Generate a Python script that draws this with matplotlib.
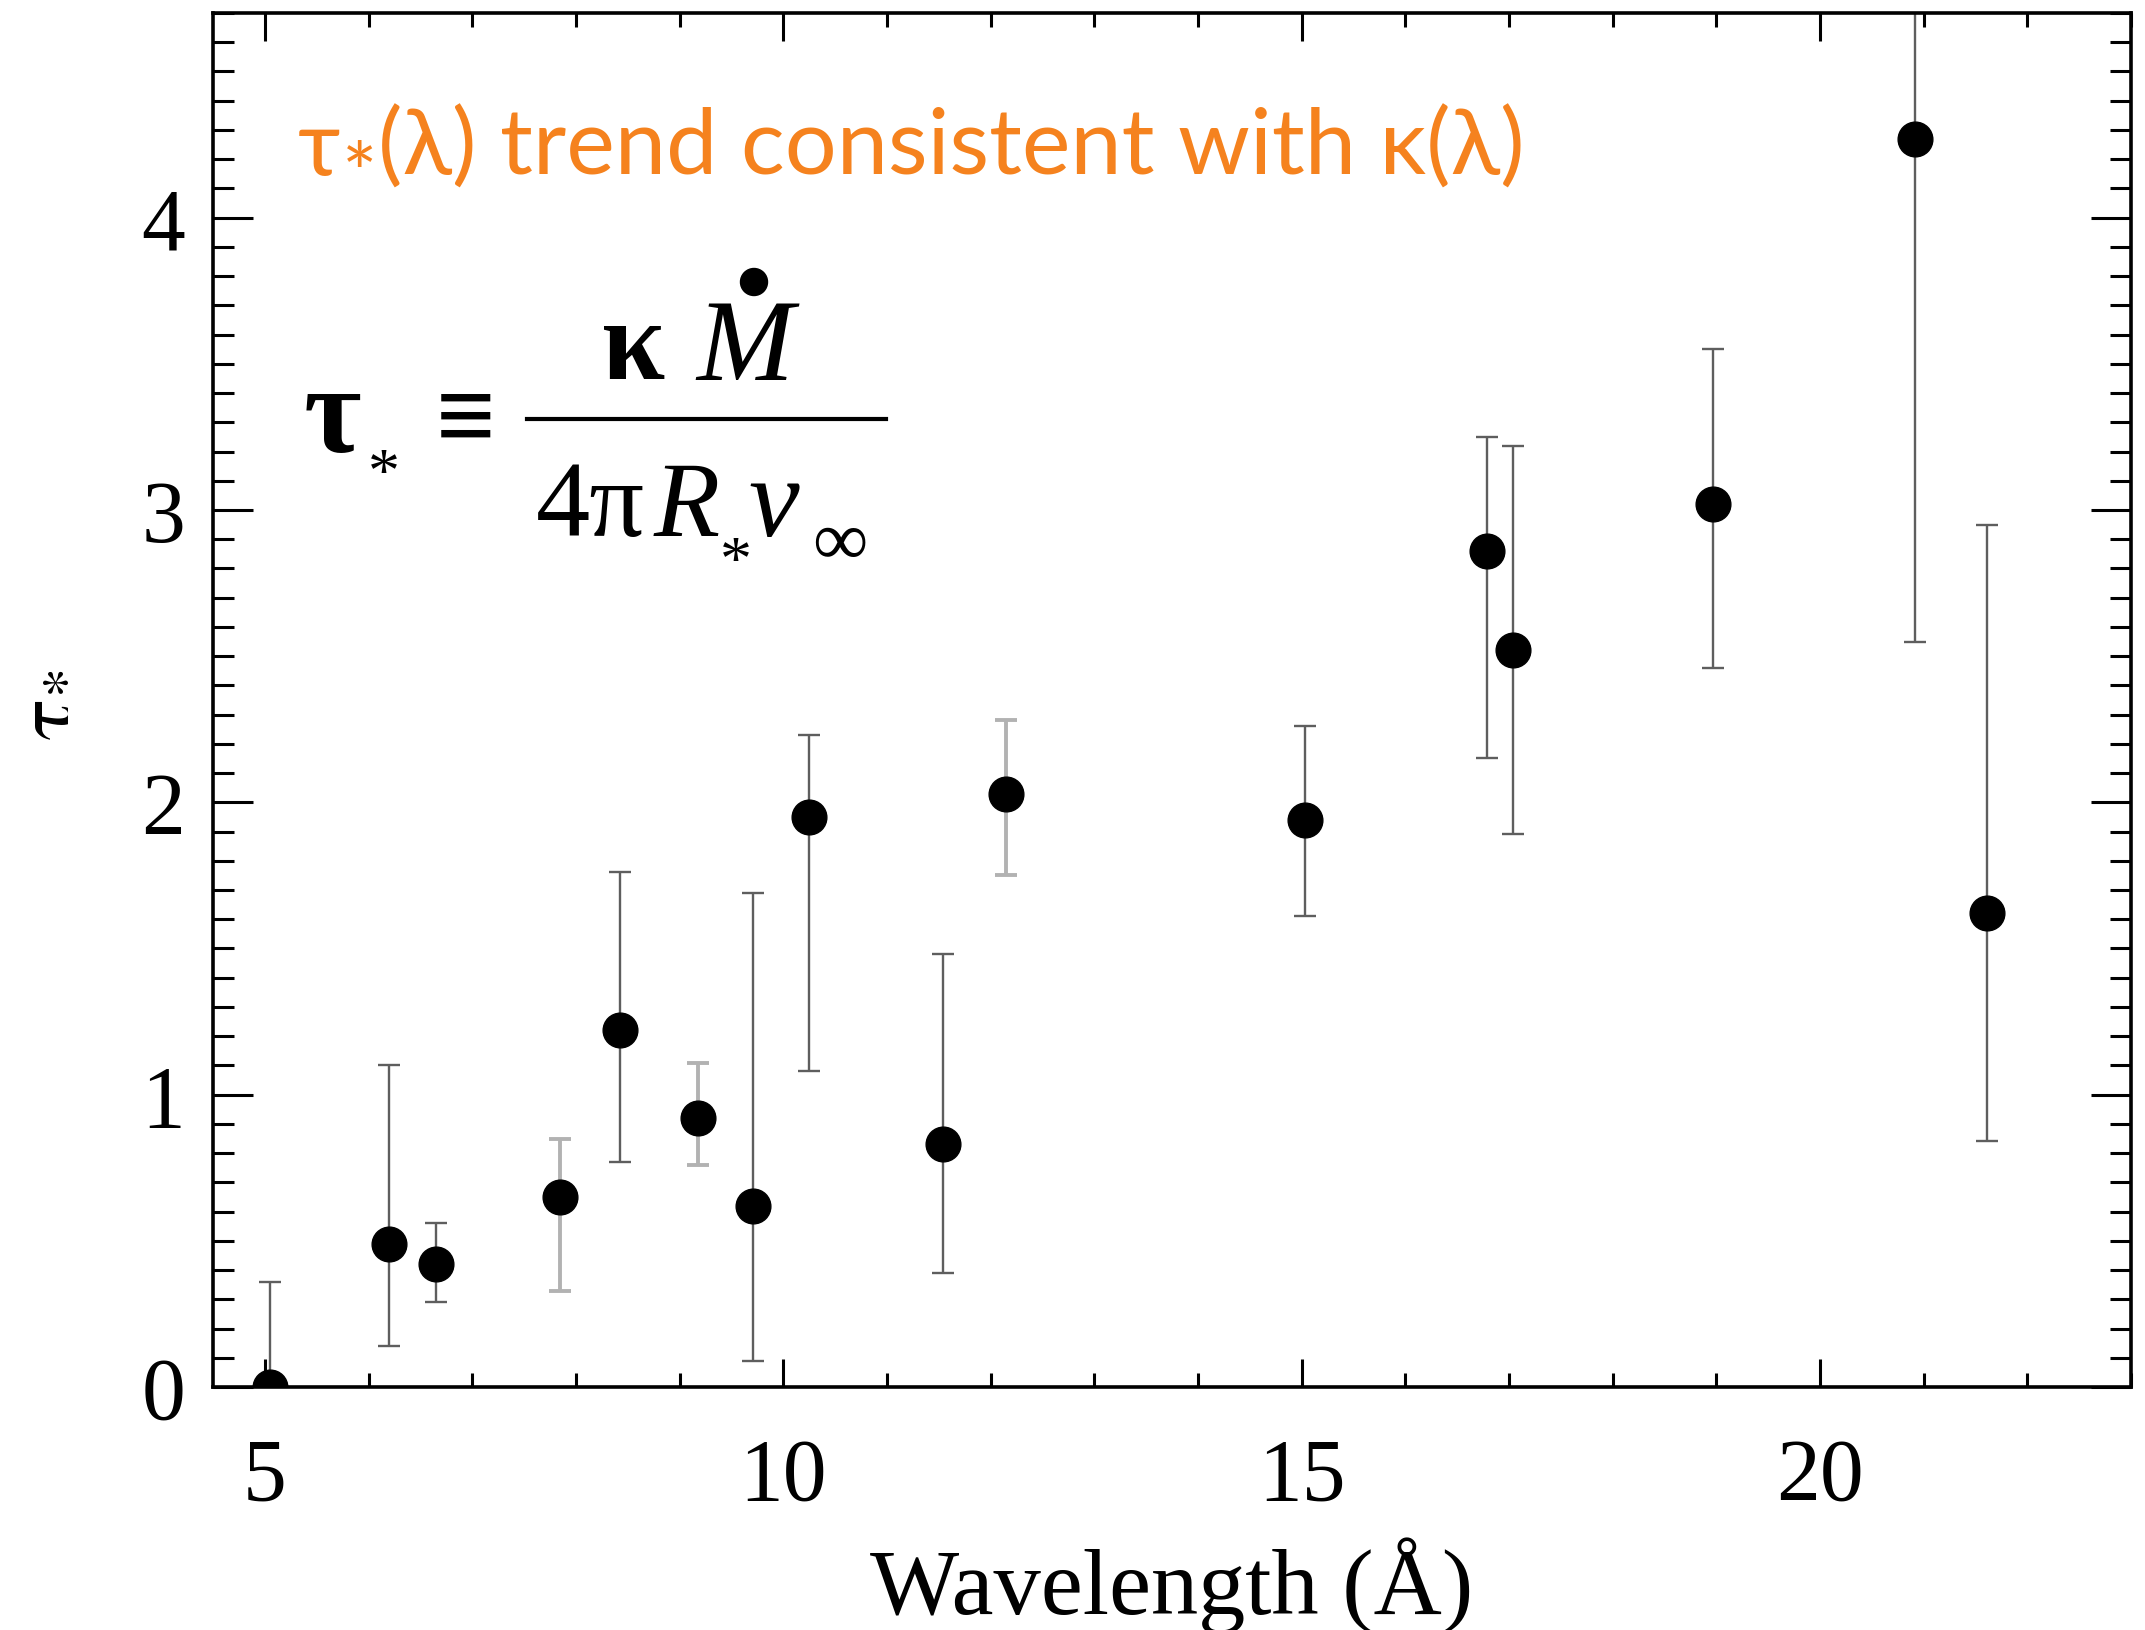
import matplotlib
matplotlib.use("Agg")
import matplotlib.pyplot as plt
from matplotlib.ticker import MultipleLocator
from matplotlib.lines import Line2D
from matplotlib.patches import Ellipse

# Measured characteristic optical depth per line wavelength
wavelength = [5.05, 6.20, 6.65, 7.85, 8.43, 9.18, 9.71, 10.25, 11.54, 12.15,
              15.03, 16.79, 17.04, 18.97, 20.92, 21.61]
tau_star = [0.00, 0.49, 0.42, 0.65, 1.22, 0.92, 0.62, 1.95, 0.83, 2.03,
            1.94, 2.86, 2.52, 3.02, 4.27, 1.62]
tau_upper = [0.36, 1.10, 0.56, 0.85, 1.76, 1.11, 1.69, 2.23, 1.48, 2.28,
             2.26, 3.25, 3.22, 3.55, 4.95, 2.95]
tau_lower = [-0.35, 0.14, 0.29, 0.33, 0.77, 0.76, 0.09, 1.08, 0.39, 1.75,
             1.61, 2.15, 1.89, 2.46, 2.55, 0.84]
# lines whose error bars are drawn in the paler grey
pale_bar = [False, False, False, True, False, True, False, False, False, True,
            False, False, False, False, False, False]

x_ticks = [5, 10, 15, 20]
y_ticks = [0, 1, 2, 3, 4]

W, H = 2145, 1631
plt.rcParams["font.family"] = ["Liberation Serif", "DejaVu Serif"]

fig = plt.figure(figsize=(W / 100, H / 100), dpi=100)
ax = fig.add_axes([213 / W, 1 - 1388 / H, (2131 - 213) / W, (1388 - 14) / H])


def fx(px):
    return px / W


def fy(py):
    return 1 - py / H


# error bars, two grey tones
for pale in (False, True):
    idx = [i for i, p in enumerate(pale_bar) if p == pale]
    xs = [wavelength[i] for i in idx]
    ys = [tau_star[i] for i in idx]
    lo = [tau_star[i] - tau_lower[i] for i in idx]
    hi = [tau_upper[i] - tau_star[i] for i in idx]
    ax.errorbar(xs, ys, yerr=[lo, hi], fmt="none",
                ecolor="#b2b2b2" if pale else "#5e5e5e",
                elinewidth=2.8 if pale else 1.7,
                capsize=8, capthick=2.8 if pale else 1.7, zorder=2)

ax.plot(wavelength, tau_star, "o", color="black", markersize=25, zorder=3)

ax.set_xlim(4.5, 23.0)
ax.set_ylim(0, 4.7)
ax.set_xticks(x_ticks)
ax.set_yticks(y_ticks)
ax.xaxis.set_minor_locator(MultipleLocator(1))
ax.yaxis.set_minor_locator(MultipleLocator(0.1))
ax.tick_params(axis="both", which="both", direction="in", top=True, right=True,
               labelsize=63, width=2.2)
ax.tick_params(axis="x", which="major", length=20, pad=36)
ax.tick_params(axis="x", which="minor", length=10)
ax.tick_params(axis="y", which="major", length=29, pad=20)
ax.tick_params(axis="y", which="minor", length=15)
for sp in ax.spines.values():
    sp.set_linewidth(2.6)

# axis titles
fig.text(fx(1172), fy(1614), "Wavelength (Å)", ha="center", va="baseline",
         fontsize=68)
fig.text(fx(44), fy(705), r"$\mathrm{\tau}_{*}$", ha="center", va="center",
         rotation=90, fontsize=62, math_fontfamily="stix")

# orange annotation, built from pieces so the subscript star sits low
renderer = fig.canvas.get_renderer()
orange = "#F5821E"
sans = ["Lato", "Noto Sans", "DejaVu Sans"]
t1 = fig.text(fx(298), fy(175), "τ", ha="left", va="baseline", fontsize=66,
              color=orange, family=sans)
x_end = t1.get_window_extent(renderer).x1
t2 = fig.text((x_end + 1) / W, fy(203), "*", ha="left", va="baseline",
              fontsize=60, color=orange, family=sans)
x_end = t2.get_window_extent(renderer).x1
fig.text((x_end + 1) / W, fy(175), "(λ) trend consistent with κ(λ)",
         ha="left", va="baseline", fontsize=66, color=orange, family=sans)

# definition of tau_*
serif = ["Liberation Serif", "DejaVu Serif"]
fig.text(fx(304), fy(452), "τ", ha="left", va="baseline", fontsize=90,
         fontweight="bold", family=serif)
fig.text(fx(384), fy(492), "*", ha="center", va="baseline", fontsize=46,
         family=serif)
fig.text(fx(466), fy(451), "≡", ha="center", va="baseline", fontsize=76,
         fontweight="bold", family=serif)
fig.add_artist(Line2D([fx(527), fx(886)], [fy(420), fy(420)],
                      color="black", linewidth=3.0, transform=fig.transFigure))
fig.text(fx(602), fy(379), "κ", ha="left", va="baseline", fontsize=82,
         fontweight="bold", family=serif)
fig.text(fx(696), fy(380), "M", ha="left", va="baseline", fontsize=84,
         fontstyle="italic", family=serif)
fig.add_artist(Ellipse((fx(754), fy(283)), 27 / W, 27 / H, color="black",
                       transform=fig.transFigure))
fig.text(fx(536), fy(536), "4π", ha="left", va="baseline", fontsize=78,
         family=serif)
fig.text(fx(654), fy(536), "R", ha="left", va="baseline", fontsize=78,
         fontstyle="italic", family=serif)
fig.text(fx(736), fy(580), "*", ha="center", va="baseline", fontsize=46,
         family=serif)
fig.text(fx(748), fy(536), "v", ha="left", va="baseline", fontsize=82,
         fontstyle="italic", family=serif)
fig.text(fx(840), fy(565), "∞", ha="center", va="baseline", fontsize=56,
         family=serif)

fig.savefig("out.png", dpi=100)
